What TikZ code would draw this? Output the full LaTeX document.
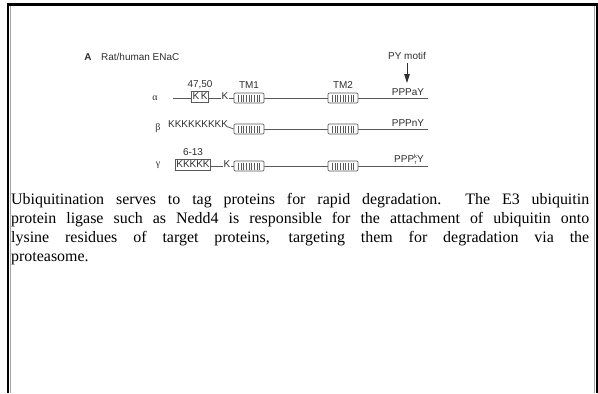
\documentclass[tikz,border=0pt]{standalone}
\usepackage{fontspec}
\setmainfont{Liberation Serif}
\newfontfamily\dgmfont{Liberation Sans}
\usetikzlibrary{arrows.meta}
\definecolor{ink}{gray}{0.18}
\definecolor{chainc}{gray}{0.35}

\tikzset{
  lbl/.style={font=\dgmfont\fontsize{10}{12}\selectfont, text=ink, inner sep=0pt},
  greek/.style={font=\fontsize{10}{12}\selectfont, text=ink, inner sep=0pt},
  chain/.style={draw=chainc, line width=0.8bp},
  tmseg/.style={draw=chainc, line width=0.7bp, fill=white, rounded corners=1.2bp,
    minimum width=30bp, minimum height=10bp, inner sep=0pt,
    path picture={\foreach \k in {-10.5,-7.875,...,10.6}
      \draw[chainc, line width=0.55bp] ([xshift=\k bp,yshift=-1.5bp]path picture bounding box.north)
        -- ([xshift=\k bp,yshift=1.5bp]path picture bounding box.south);}},
  kbox/.style={lbl, draw=chainc, line width=0.7bp, fill=white, inner xsep=1.2bp,
    inner ysep=1.2bp, minimum height=11bp},
  para/.style={font=\fontsize{16}{19}\selectfont, inner sep=0pt, text width=578bp,
    align=justify, anchor=north west},
  frame/.style={line width=2.2bp, black},
  frameshade/.style={line width=0.8bp, gray!70},
}

\begin{document}
\begin{tikzpicture}[x=1bp,y=-1bp]
\useasboundingbox (0,0) rectangle (598,393);

% slide frame (open at the bottom)
\draw[frameshade] (10.3,393) -- (10.3,5.8);
\draw[frameshade] (594.5,5.8) -- (594.5,393);
\draw[frame] (8.2,393) -- (8.2,4.5) -- (596.6,4.5) -- (596.6,393);

% heading
\node[lbl, font=\dgmfont\bfseries\fontsize{10}{12}\selectfont] (hA) at (88,57) {A};
\node[lbl, anchor=west] (htitle) at (101,57) {Rat/human ENaC};
\node[lbl] (py) at (407,56) {PY motif};
\coordinate (pytip) at (407,83);
\draw[ink, line width=0.9bp, -{Triangle[width=5.5bp,length=9bp]}] (py.south) ++(0,3) -- (pytip);

% alpha subunit
\node[greek] (ga) at (155,98) {α};
\coordinate (a0) at (173,98);
\coordinate (a1) at (428,98);
\draw[chain] (a0) -- (a1);
\node[kbox] (akk) at (200,96.5) {K\,K};
\node[lbl] (a4750) at (200,85) {47,50};
\node[lbl, fill=white, inner xsep=0.5bp] (ak) at (225,96) {K};
\node[tmseg] (atm1) at (249,98) {};
\node[lbl] (ltm1) at (249,85) {TM1};
\node[tmseg] (atm2) at (343,98) {};
\node[lbl] (ltm2) at (343,85) {TM2};
\node[lbl, fill=white, inner ysep=0.5bp] (apy) at (408,92.5) {PPPaY};

% beta subunit
\node[greek] (gb) at (158,128) {β};
\node[lbl, anchor=west] (bk) at (168,124.5) {KKKKKKKKK};
\node[tmseg] (btm1) at (249,129) {};
\node[tmseg] (btm2) at (343,129) {};
\coordinate (b1) at (428,129);
\draw[chain] (btm1.east) -- (btm2.west) (btm2.east) -- (b1);
\draw[chain] (bk.south east) ++(-1,-1.5) -- (btm1.west);
\node[lbl, fill=white, inner ysep=0.5bp] (bpy) at (408,123) {PPPnY};

% gamma subunit
\node[greek] (gg) at (158,165) {γ};
\coordinate (g1) at (428,166);
\node[kbox] (gkk) at (193,164.5) {KKKKK};
\node[lbl] (g613) at (193,152) {6-13};
\draw[chain] (gkk.east |- g1) -- (g1);
\node[lbl, fill=white, inner xsep=0.5bp] (gk) at (227,164) {K};
\node[tmseg] (gtm1) at (249,166) {};
\node[tmseg] (gtm2) at (343,166) {};
\node[lbl, inner ysep=0pt] (gpy) at (409,159.5)
  {PPP\raisebox{-2.2bp}{\shortstack{\fontsize{6}{5.6}\selectfont k\\[0pt]\fontsize{6}{5.6}\selectfont r}}Y};

% caption text
\node[para] (cap) at (11,193) {Ubiquitination serves to tag proteins for rapid degradation.\ \ The E3 ubiquitin\linebreak
protein ligase such as Nedd4 is responsible for the attachment of ubiquitin onto\linebreak
lysine residues of target proteins, targeting them for degradation via the\linebreak
proteasome.};
\end{tikzpicture}
\end{document}
